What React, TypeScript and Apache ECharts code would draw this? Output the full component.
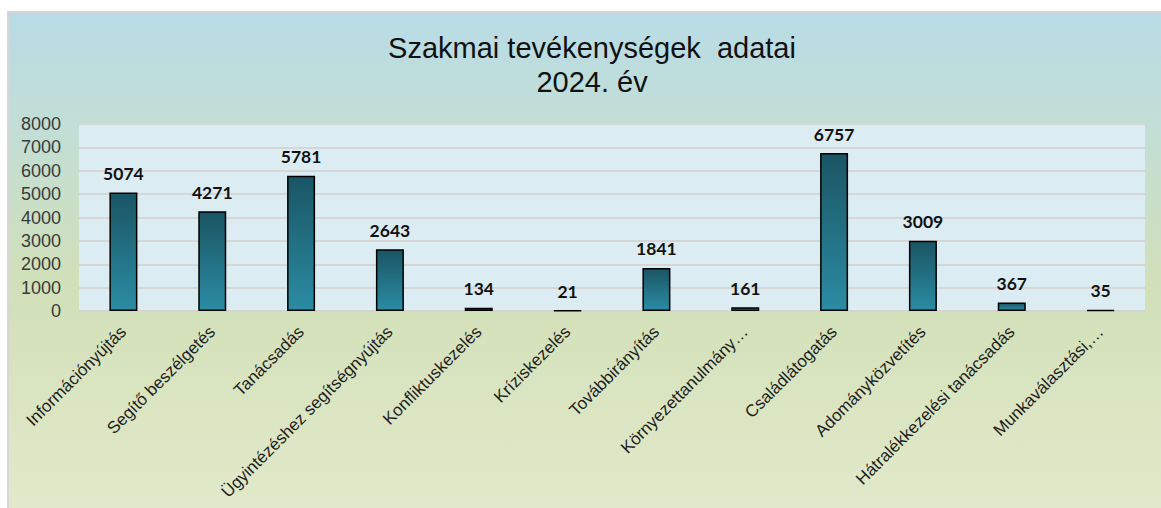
import React, { useEffect, useRef } from "react";
import * as echarts from "echarts";

const categories = [
  "Információnyújtás",
  "Segítő beszélgetés",
  "Tanácsadás",
  "Ügyintézéshez segítségnyújtás",
  "Konfliktuskezelés",
  "Kríziskezelés",
  "Továbbirányítás",
  "Környezettanulmány…",
  "Családlátogatás",
  "Adományközvetítés",
  "Hátralékkezelési tanácsadás",
  "Munkaválasztási,…",
];
const values = [5074, 4271, 5781, 2643, 134, 21, 1841, 161, 6757, 3009, 367, 35];
const yMin = 0;
const yMax = 8000;
const yInterval = 1000;
const titleText = "Szakmai tevékenységek  adatai\n2024. év";

export default function App() {
  const ref = useRef<HTMLDivElement>(null);
  useEffect(() => {
    if (!ref.current) return;
    const chart = echarts.init(ref.current, null, { renderer: "svg" });
    chart.setOption({
      animation: false,
      backgroundColor: "transparent",
      title: {
        text: titleText,
        left: 587,
        top: 26,
        textAlign: "center",
        textStyle: {
          fontFamily: "Liberation Sans",
          fontSize: 29,
          fontWeight: "normal",
          color: "#111111",
          lineHeight: 34,
        },
      },
      grid: {
        left: 79,
        right: 16,
        top: 124,
        bottom: 197,
        show: true,
        backgroundColor: "#dbedf3",
        borderWidth: 0,
      },
      xAxis: {
        type: "category",
        data: categories,
        axisLine: { show: true, lineStyle: { color: "#d4d4d4", width: 2 } },
        axisTick: { show: false },
        axisLabel: {
          interval: 0,
          rotate: 45,
          margin: 18,
          fontFamily: "Liberation Sans",
          fontSize: 17,
          color: "#1e1e1e",
        },
      },
      yAxis: {
        type: "value",
        min: yMin,
        max: yMax,
        interval: yInterval,
        axisLine: { show: false },
        axisTick: { show: false },
        axisLabel: {
          margin: 18,
          fontFamily: "Liberation Sans",
          fontSize: 18,
          color: "#3a3a3a",
          formatter: (v: number) => String(v),
        },
        splitLine: { lineStyle: { color: "#d6d6d6", width: 2 } },
      },
      series: [
        {
          type: "bar",
          data: values,
          barWidth: 28,
          itemStyle: {
            color: new echarts.graphic.LinearGradient(0, 0, 0, 1, [
              { offset: 0, color: "#1a5564" },
              { offset: 1, color: "#2b8ca3" },
            ]),
            borderColor: "#000000",
            borderWidth: 1.5,
          },
          label: {
            show: true,
            position: "top",
            distance: 10,
            fontFamily: "Lato",
            fontWeight: "bold",
            fontSize: 17.5,
            color: "#111111",
          },
        },
      ],
    });
    return () => chart.dispose();
  }, []);

  return (
    <div>
      <div
        style={{
          position: "absolute",
          left: 7,
          top: 11,
          width: 1154,
          height: 497,
          boxSizing: "border-box",
          borderTop: "2px solid #d6d6d6",
          borderLeft: "2px solid #d6d6d6",
          background:
            "linear-gradient(to bottom, #b8dce6 0%, #c3ded4 25%, #d1e0b8 55%, #dde6c4 85%, #e1e9ca 100%)",
        }}
      />
      <div
        ref={ref}
        style={{ position: "absolute", left: 0, top: 0, width: 1161, height: 508 }}
      />
    </div>
  );
}
